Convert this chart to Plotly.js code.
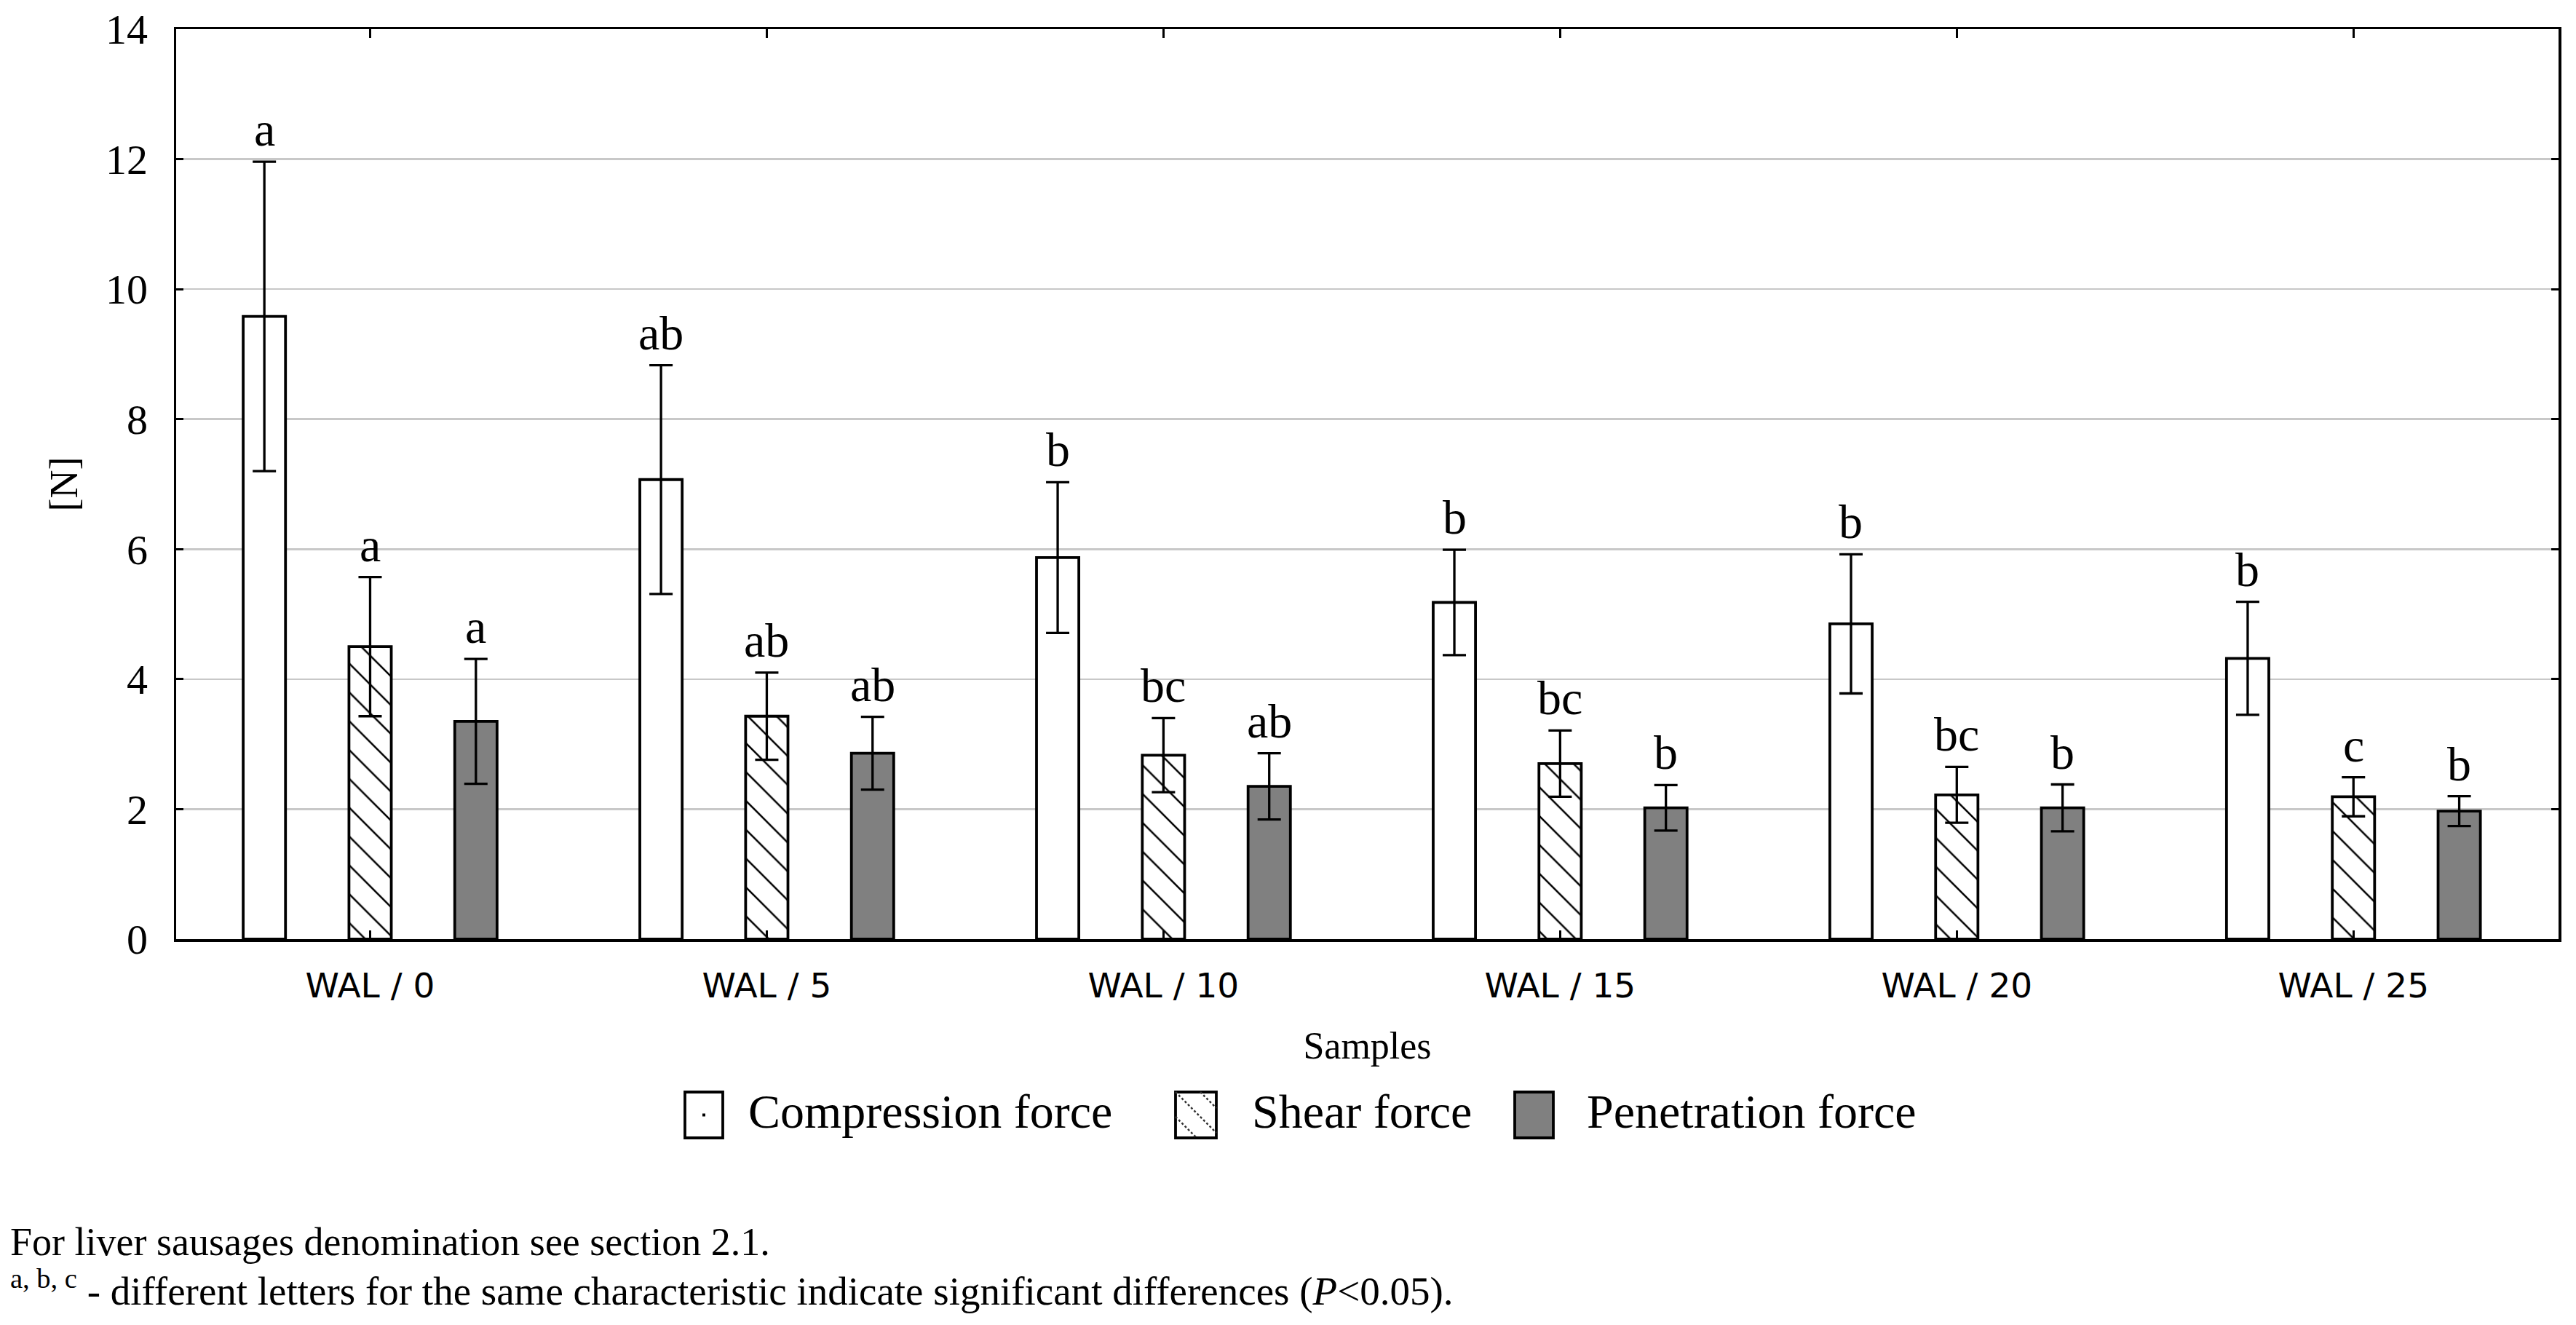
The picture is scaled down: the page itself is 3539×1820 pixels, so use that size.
<!DOCTYPE html>
<html>
<head>
<meta charset="utf-8">
<script src="https://cdn.plot.ly/plotly-3.0.1.min.js"></script>
<style>
  html, body { margin: 0; padding: 0; background: #ffffff; }
  #chart { width: 3539px; height: 1820px; }
</style>
</head>
<body>
<div id="chart"></div>
<script>
// ---------------- data ----------------
const categories = ['WAL / 0', 'WAL / 5', 'WAL / 10', 'WAL / 15', 'WAL / 20', 'WAL / 25'];
const seriesNames = ['Compression force', 'Shear force', 'Penetration force'];

const compression      = [9.58, 7.07, 5.87, 5.18, 4.85, 4.32];
const compressionErr   = [2.38, 1.76, 1.16, 0.81, 1.07, 0.87];
const shear            = [4.50, 3.43, 2.83, 2.70, 2.22, 2.19];
const shearErr         = [1.07, 0.67, 0.57, 0.51, 0.43, 0.30];
const penetration      = [3.35, 2.86, 2.35, 2.02, 2.02, 1.97];
const penetrationErr   = [0.96, 0.56, 0.51, 0.35, 0.36, 0.23];

const compressionLetters = ['a', 'ab', 'b', 'b', 'b', 'b'];
const shearLetters       = ['a', 'ab', 'bc', 'bc', 'bc', 'c'];
const penetrationLetters = ['a', 'ab', 'ab', 'b', 'b', 'b'];

const yTickVals = [0, 2, 4, 6, 8, 10, 12, 14];

const footnote1 = 'For liver sausages denomination see section 2.1.';
const footnote2 = '<sup>a, b, c</sup> - different letters for the same characteristic indicate significant differences (<i>P</i>&lt;0.05).';

// ---------------- layout constants ----------------
const W = 3539, H = 1820;
const M = { l: 242, r: 24, t: 40, b: 530 };
const X_RANGE = [-0.489, 5.517];
const BARGAP = 0.2, BARGROUPGAP = 0.6;
const SERIF = 'Liberation Serif, Times New Roman, serif';
const SANS = 'DejaVu Sans, Verdana, sans-serif';

const plotW = W - M.l - M.r, plotH = H - M.t - M.b;
const px = v => (v - M.l) / plotW;          // page px -> paper x
const py = v => (H - M.b - v) / plotH;      // page px -> paper y

const values = [compression, shear, penetration];
const errors = [compressionErr, shearErr, penetrationErr];
const letters = [compressionLetters, shearLetters, penetrationLetters];

const hatch = { shape: '\\', fgcolor: '#000000', bgcolor: '#ffffff', size: 28, solidity: 0.09, fillmode: 'replace' };
const styles = [
  { color: '#ffffff' },
  { color: '#ffffff', pattern: hatch },
  { color: '#808080' }
];

const xIdx = categories.map((_, i) => i);

const traces = values.map((vals, s) => ({
  type: 'bar',
  name: seriesNames[s],
  x: xIdx,
  y: vals,
  showlegend: false,
  marker: Object.assign({ line: { color: '#000000', width: 3.8 } }, styles[s]),
  error_y: { type: 'data', array: errors[s], visible: true, color: '#000000', thickness: 3.3, width: 16 },
  hoverinfo: 'skip'
}));

// significance letters above the error bars
const nS = values.length;
const slot = (1 - BARGAP) / nS;
const annotations = [];
values.forEach((vals, s) => {
  vals.forEach((v, i) => {
    annotations.push({
      xref: 'x', yref: 'y',
      x: i + (s - (nS - 1) / 2) * slot,
      y: v + errors[s][i],
      yanchor: 'bottom', xanchor: 'center',
      yshift: 6,
      text: letters[s][i],
      showarrow: false,
      font: { family: SERIF, size: 66, color: '#000000' }
    });
  });
});

// custom legend (box geometry in page px)
const legendBoxes = [
  { x0: 941, x1: 993 },
  { x0: 1615, x1: 1671 },
  { x0: 2081, x1: 2134 }
];
const legendTextX = [1026, 1718, 2178];
const legendBoxY0 = 1500, legendBoxY1 = 1563, legendTextY = 1526;

const shapes = [];
legendBoxes.forEach((b, s) => {
  shapes.push({
    type: 'rect', xref: 'paper', yref: 'paper',
    x0: px(b.x0), x1: px(b.x1), y0: py(legendBoxY1), y1: py(legendBoxY0),
    fillcolor: styles[s].color, line: { color: '#000000', width: 3.8 }
  });
  annotations.push({
    xref: 'paper', yref: 'paper', x: px(legendTextX[s]), y: py(legendTextY),
    xanchor: 'left', yanchor: 'middle', showarrow: false,
    text: seriesNames[s], font: { family: SERIF, size: 66, color: '#000000' }
  });
});
// dot inside compression legend box
{
  const b = legendBoxes[0];
  const cx = (b.x0 + b.x1) / 2, cy = (legendBoxY0 + legendBoxY1) / 2;
  shapes.push({
    type: 'rect', xref: 'paper', yref: 'paper',
    x0: px(cx - 2), x1: px(cx + 2), y0: py(cy + 2), y1: py(cy - 2),
    fillcolor: '#000000', line: { width: 0 }
  });
}
// hatch inside shear legend box
{
  const b = legendBoxes[1];
  const w = b.x1 - b.x0, h = legendBoxY1 - legendBoxY0;
  [-34, 0, 34].forEach(c => {
    let xa = b.x0, ya = legendBoxY0 + c;
    if (ya < legendBoxY0) { xa = b.x0 - c; ya = legendBoxY0; }
    let xb = b.x1, yb = legendBoxY0 + w + c;
    if (yb > legendBoxY1) { xb = b.x0 + (h - c); yb = legendBoxY1; }
    shapes.push({
      type: 'line', xref: 'paper', yref: 'paper',
      x0: px(xa), y0: py(ya), x1: px(xb), y1: py(yb),
      line: { color: '#333333', width: 2.5, dash: 'dot' }
    });
  });
}

// footnotes
annotations.push({
  xref: 'paper', yref: 'paper', x: px(12), y: py(1706),
  xanchor: 'left', yanchor: 'middle', showarrow: false, align: 'left',
  text: footnote1, font: { family: SERIF, size: 54, color: '#000000' }
});
annotations.push({
  xref: 'paper', yref: 'paper', x: px(12), y: py(1769),
  xanchor: 'left', yanchor: 'middle', showarrow: false, align: 'left',
  text: footnote2, font: { family: SERIF, size: 55, color: '#000000' }
});

const layout = {
  width: W, height: H,
  margin: M,
  paper_bgcolor: '#ffffff', plot_bgcolor: '#ffffff',
  barmode: 'group', bargap: BARGAP, bargroupgap: BARGROUPGAP,
  font: { family: SERIF, color: '#000000' },
  showlegend: false,
  xaxis: {
    range: X_RANGE,
    tickmode: 'array', tickvals: xIdx, ticktext: categories,
    tickfont: { family: SANS, size: 47, color: '#000000' },
    ticks: 'inside', ticklen: 12, tickwidth: 3, tickcolor: '#000000',
    ticklabelstandoff: 20,
    showline: true, linecolor: '#000000', linewidth: 3.5, mirror: 'ticks',
    showgrid: false, zeroline: false,
    title: { text: 'Samples', font: { family: SERIF, size: 52, color: '#000000' }, standoff: 38 }
  },
  yaxis: {
    range: [0, 14],
    tickmode: 'array', tickvals: yTickVals,
    tickfont: { family: SERIF, size: 58, color: '#000000' },
    ticks: 'inside', ticklen: 10, tickwidth: 3, tickcolor: '#000000',
    ticklabelstandoff: 24,
    showline: true, linecolor: '#000000', linewidth: 3.5, mirror: 'ticks',
    showgrid: true, gridcolor: '#c8c8c8', gridwidth: 2.5, zeroline: false,
    title: { text: '[N]', font: { family: SERIF, size: 54, color: '#000000' }, standoff: 22 }
  },
  annotations: annotations,
  shapes: shapes
};

Plotly.newPlot('chart', traces, layout, { staticPlot: true, displayModeBar: false });
</script>
</body>
</html>
